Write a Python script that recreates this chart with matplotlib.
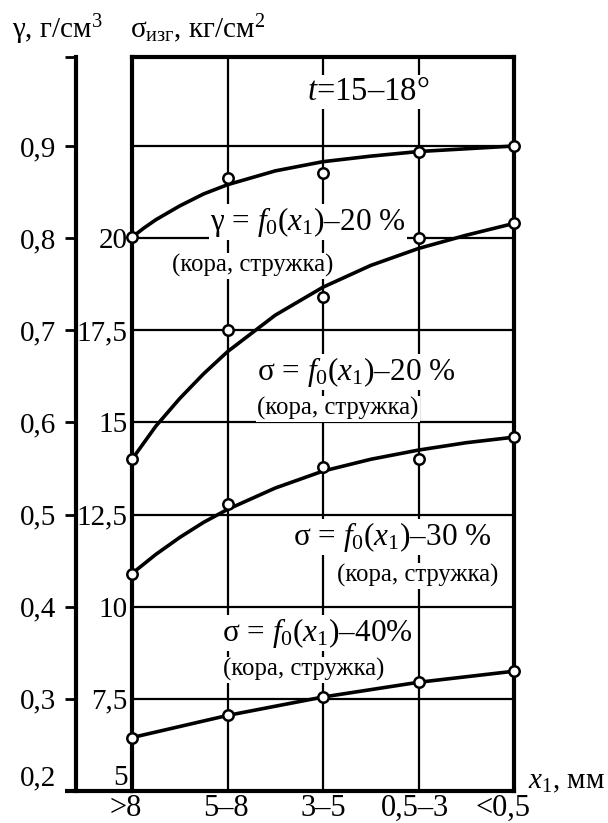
import matplotlib
matplotlib.use("Agg")
import matplotlib.pyplot as plt
import matplotlib.transforms as mtransforms

plt.rcParams['font.family'] = ['Liberation Serif', 'DejaVu Serif']
plt.rcParams['mathtext.fontset'] = 'custom'
plt.rcParams['mathtext.rm'] = 'Liberation Serif'
plt.rcParams['mathtext.it'] = 'Liberation Serif:italic'

# Kategorien der Teilchengroesse x1, mm
categories = ['>8', '5–8', '3–5', '0,5–3', '<0,5']
cat_pos = [0, 1, 2, 3, 4]

# Messpunkte
gamma_pts = [0.801, 0.865, 0.871, 0.894, 0.900]      # g/cm^3
sigma20_pts = [14.0, 17.5, 18.4, 20.0, 20.4]         # kg/cm^2
sigma30_pts = [10.9, 12.8, 13.8, 14.0, 14.6]
sigma40_pts = [6.45, 7.05, 7.55, 7.95, 8.25]

# ausgeglichene Kurven
curve_x = [0, 0.125, 0.25, 0.5, 0.75, 1, 1.5, 2, 2.5, 3, 3.5, 4]
gamma_curve = [0.801, 0.811, 0.820, 0.835, 0.848, 0.858, 0.873, 0.883, 0.889, 0.894, 0.897, 0.900]
sigma20_curve = [14.0, 14.45, 14.9, 15.65, 16.32, 16.92, 17.91, 18.67, 19.26, 19.72, 20.08, 20.4]
sigma30_curve = [10.9, 11.16, 11.42, 11.88, 12.29, 12.64, 13.22, 13.68, 14.0, 14.25, 14.45, 14.6]
sigma40_curve = sigma40_pts

sigma_ticks = [5, 7.5, 10, 12.5, 15, 17.5, 20, 22.5]
sigma_labels = ['5', '7,5', '10', '12,5', '15', '17,5', '20', '']
gamma_ticks = [0.2, 0.3, 0.4, 0.5, 0.6, 0.7, 0.8, 0.9, 0.9966]
gamma_labels = ['0,2', '0,3', '0,4', '0,5', '0,6', '0,7', '0,8', '0,9', '']

fig = plt.figure(figsize=(6.08, 8.23), dpi=100)
ax = fig.add_axes([132/608, 32/823, 382/608, 734/823])
ax.set_xlim(0, 4)
ax.set_ylim(5, 24.915)
for s in ax.spines.values():
    s.set_linewidth(3)
ax.set_xticks(cat_pos)
ax.set_xticklabels(categories)
ax.tick_params(axis='x', length=0, pad=2, labelsize=22)
# Beschriftungen am Rand leicht nach links
for lab, dx in zip(ax.get_xticklabels(), [-6, -2, 0, -4, -11]):
    lab.set_transform(lab.get_transform() + mtransforms.ScaledTranslation(dx/100, 0, fig.dpi_scale_trans))
ax.set_yticks(sigma_ticks)
ax.set_yticklabels(sigma_labels)
ax.tick_params(axis='y', length=0, pad=3, labelsize=21)
ax.get_yticklabels()[0].set_verticalalignment('bottom')
ax.grid(True, color='k', lw=1.6)
ax.set_axisbelow(True)

# Dichte-Achse links
axg = ax.twinx()
axg.set_ylim(0.2, 0.9966)
for side in ['right', 'top', 'bottom']:
    axg.spines[side].set_visible(False)
axg.spines['left'].set_visible(True)
axg.spines['left'].set_position(('axes', -56/382))
axg.spines['left'].set_linewidth(3)
axg.yaxis.set_ticks_position('left')
axg.set_yticks(gamma_ticks)
axg.set_yticklabels(gamma_labels)
axg.tick_params(axis='y', length=8, width=2, pad=6, labelsize=21)
axg.get_yticklabels()[0].set_verticalalignment('bottom')
ax.plot([-67/382, 0], [0, 0], transform=ax.transAxes, color='k', lw=3,
        clip_on=False, solid_capstyle='butt')

mk = dict(marker='o', ms=7.5, mfc='white', mec='k', mew=1.8, ls='none', zorder=5, clip_on=False)
for cx, cy, px, py in [(curve_x, sigma20_curve, cat_pos, sigma20_pts),
                       (curve_x, sigma30_curve, cat_pos, sigma30_pts),
                       (cat_pos, sigma40_curve, cat_pos, sigma40_pts)]:
    ax.plot(cx, cy, color='k', lw=2.6, zorder=4, clip_on=False, solid_joinstyle='round')
    ax.plot(px, py, **mk)
axg.plot(curve_x, gamma_curve, color='k', lw=2.6, zorder=4, clip_on=False, solid_joinstyle='round')
axg.plot(cat_pos, gamma_pts, **mk)

box = dict(facecolor='white', edgecolor='none', pad=1)
fs_f = 22.5
fs_k = 17.8
axg.text(1.83, 0.9586, r'$t$=15–18°', fontsize=23.5, ha='left', va='center', bbox=box, zorder=6)
ax.text(0.82, 20.22, r'γ = $f_0(x_1)$–20 %', fontsize=fs_f, ha='left', va='baseline', bbox=box, zorder=6)
ax.text(0.42, 19.08, '(кора, стружка)', fontsize=fs_k, ha='left', va='baseline', bbox=box, zorder=6)
ax.text(1.31, 16.15, r'σ = $f_0(x_1)$–20 %', fontsize=fs_f, ha='left', va='baseline', bbox=box, zorder=6)
ax.text(1.31, 15.2, '(кора, стружка)', fontsize=fs_k, ha='left', va='baseline', bbox=box, zorder=6)
ax.text(1.69, 11.67, r'σ = $f_0(x_1)$–30 %', fontsize=fs_f, ha='left', va='baseline', bbox=box, zorder=6)
ax.text(2.15, 10.67, '(кора, стружка)', fontsize=fs_k, ha='left', va='baseline', bbox=box, zorder=6)
ax.text(0.94, 9.07, r'σ = $f_0(x_1)$–40%', fontsize=fs_f, ha='left', va='baseline', bbox=box, zorder=6)
ax.text(0.95, 8.12, '(кора, стружка)', fontsize=fs_k, ha='left', va='baseline', bbox=box, zorder=6)

ax.text(1.037, 0.004, r'$x_1$, мм', fontsize=21, ha='left', va='baseline', transform=ax.transAxes)
fig.text(12/608, 1 - 38/823, r'γ, г/см$^3$', fontsize=21, ha='left', va='baseline')
fig.text(130/608, 1 - 38/823, r'σ$_{\mathrm{изг}}$, кг/см$^2$', fontsize=21, ha='left', va='baseline')

fig.savefig('out.png', dpi=100)
